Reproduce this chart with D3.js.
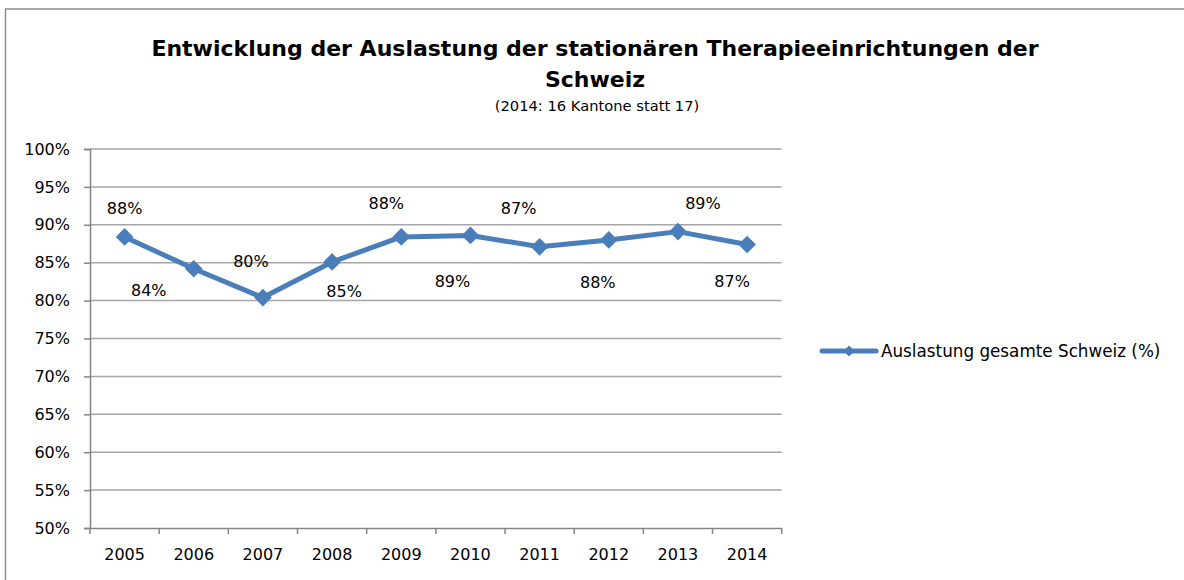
<!DOCTYPE html>
<html>
<head>
<meta charset="utf-8">
<script src="https://cdn.jsdelivr.net/npm/d3@7"></script>
<style>
  body { margin: 0; background: #fff; }
  svg text { font-family: "DejaVu Sans", sans-serif; fill: #000; }
</style>
</head>
<body>
<svg id="chart" width="1184" height="580"></svg>
<script>
// data
var years = ["2005", "2006", "2007", "2008", "2009", "2010", "2011", "2012", "2013", "2014"];
var auslastung = [88.4, 84.2, 80.4, 85.1, 88.4, 88.6, 87.1, 88.0, 89.1, 87.4];
var yTicks = [50, 55, 60, 65, 70, 75, 80, 85, 90, 95, 100];
var seriesName = "Auslastung gesamte Schweiz (%)";

// label nudges (px) from each point, the labels were hand placed in the original
var labelDx = [0, -45, -12, 12, -15, -18, -21, -11, 25, -15];
var labelDy = [-28, 22, -36, 30, -33, 46, -38, 43, -28, 37];

var blue = "#4a7ebb", grid = "#a6a6a6", axisCol = "#868686";

var svg = d3.select("#chart");

// outer chart border (runs off the right and bottom edge)
svg.append("rect")
    .attr("x", 5.5).attr("y", 9)
    .attr("width", 1300).attr("height", 700)
    .attr("fill", "#fff")
    .attr("stroke", "#8c8c8c").attr("stroke-width", 1.5);

// title
var title = svg.append("text")
    .attr("text-anchor", "middle")
    .style("font-weight", "bold")
    .style("font-size", "22px");
title.append("tspan").attr("x", 595).attr("y", 56)
    .text("Entwicklung der Auslastung der stationären Therapieeinrichtungen der");
title.append("tspan").attr("x", 595).attr("y", 87).text("Schweiz");
svg.append("text")
    .attr("x", 597).attr("y", 111)
    .attr("text-anchor", "middle")
    .style("font-size", "14.7px")
    .text("(2014: 16 Kantone statt 17)");

var x = d3.scaleBand().domain(years).range([90, 781.7]);
var y = d3.scaleLinear().domain([50, 100]).range([528, 149]);

// gridlines
svg.append("g").selectAll("line")
    .data(yTicks.slice(1))
    .enter().append("line")
    .attr("x1", 90).attr("x2", 781.7)
    .attr("y1", function(d) { return y(d); })
    .attr("y2", function(d) { return y(d); })
    .attr("stroke", grid).attr("stroke-width", 1.5);

// y axis
var yAxis = svg.append("g")
    .attr("transform", "translate(90,0)")
    .call(d3.axisLeft(y).tickValues(yTicks).tickSize(6).tickPadding(14)
        .tickFormat(function(d) { return d + "%"; }));
yAxis.select(".domain").attr("stroke", axisCol).attr("stroke-width", 1.5);
yAxis.selectAll(".tick line").attr("stroke", axisCol).attr("stroke-width", 1.5);
yAxis.selectAll(".tick text").style("font-size", "16px").attr("fill", "#000");

// x axis, ticks between categories like excel
var xAxis = svg.append("g")
    .attr("transform", "translate(0,528)")
    .call(d3.axisBottom(x).tickSize(0).tickPadding(21));
xAxis.select(".domain").attr("stroke", axisCol).attr("stroke-width", 1.5);
xAxis.selectAll(".tick text").style("font-size", "16px").attr("fill", "#000");
xAxis.selectAll(".sep")
    .data(d3.range(years.length + 1))
    .enter().append("line")
    .attr("class", "sep")
    .attr("x1", function(i) { return 90 + i * x.step(); })
    .attr("x2", function(i) { return 90 + i * x.step(); })
    .attr("y1", 0).attr("y2", 6)
    .attr("stroke", axisCol).attr("stroke-width", 1.5);

var cx = function(i) { return x(years[i]) + x.bandwidth() / 2; };

// line
var line = d3.line()
    .x(function(d, i) { return cx(i); })
    .y(function(d) { return y(d); });
svg.append("path")
    .datum(auslastung)
    .attr("d", line)
    .attr("fill", "none")
    .attr("stroke", blue)
    .attr("stroke-width", 5)
    .attr("stroke-linejoin", "round");

// diamond markers
var diamond = d3.symbol().type(d3.symbolDiamond2).size(200);
svg.append("g").selectAll("path")
    .data(auslastung)
    .enter().append("path")
    .attr("d", diamond)
    .attr("transform", function(d, i) { return "translate(" + cx(i) + "," + y(d) + ")"; })
    .attr("fill", blue);

// data labels
svg.append("g").selectAll("text")
    .data(auslastung)
    .enter().append("text")
    .attr("x", function(d, i) { return cx(i) + labelDx[i]; })
    .attr("y", function(d, i) { return y(d) + labelDy[i]; })
    .attr("text-anchor", "middle")
    .attr("dominant-baseline", "central")
    .style("font-size", "16px")
    .text(function(d) { return Math.round(d) + "%"; });

// legend
var lg = svg.append("g").attr("transform", "translate(822,351)");
lg.append("line")
    .attr("x1", 0).attr("x2", 54)
    .attr("stroke", blue).attr("stroke-width", 5)
    .attr("stroke-linecap", "round");
lg.append("path")
    .attr("d", d3.symbol().type(d3.symbolDiamond2).size(80))
    .attr("transform", "translate(27,0)")
    .attr("fill", blue);
lg.append("text")
    .attr("x", 59).attr("y", 0)
    .attr("dominant-baseline", "central")
    .style("font-size", "16.8px")
    .text(seriesName);
</script>
</body>
</html>
